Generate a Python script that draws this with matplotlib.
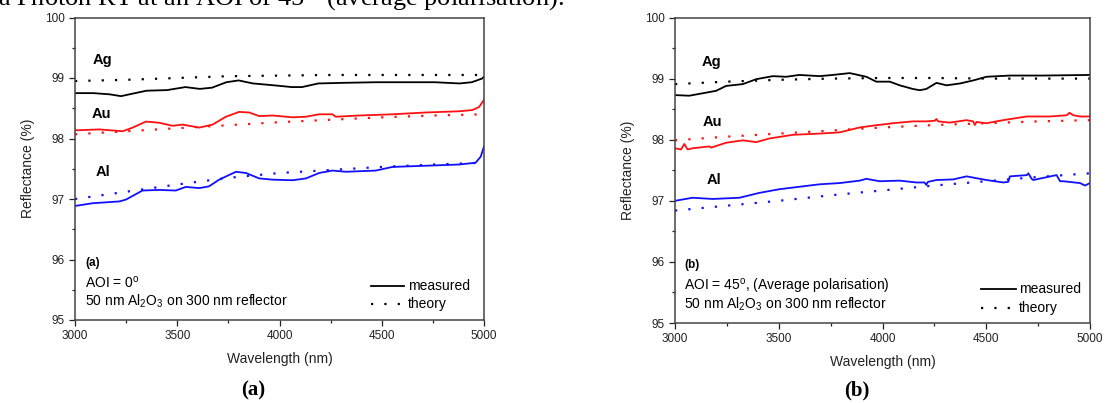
import matplotlib
matplotlib.use("Agg")
import matplotlib.pyplot as plt
from matplotlib.ticker import MultipleLocator

plt.rcParams['font.family'] = ['Liberation Sans', 'DejaVu Sans']
plt.rcParams['mathtext.fontset'] = 'custom'
plt.rcParams['mathtext.rm'] = 'Liberation Sans'
plt.rcParams['mathtext.it'] = 'Liberation Sans:italic'
plt.rcParams['mathtext.bf'] = 'Liberation Sans:bold'

# ---------------- data: panel (a), AOI = 0 ----------------
ag_a_wl = [3000, 3090, 3170, 3225, 3280, 3350, 3450, 3540, 3610, 3670, 3740, 3800, 3870,
           3970, 4060, 4110, 4190, 4310, 4470, 4630, 4760, 4880, 4940, 4990, 5000]
ag_a_meas = [98.75, 98.75, 98.73, 98.70, 98.74, 98.79, 98.80, 98.85, 98.82, 98.84, 98.93, 98.96, 98.91,
             98.88, 98.85, 98.85, 98.91, 98.92, 98.93, 98.93, 98.93, 98.91, 98.93, 98.99, 99.02]

au_a_wl = [3000, 3119, 3233, 3282, 3347, 3412, 3477, 3526, 3608, 3673, 3738, 3803, 3852, 3901,
           3966, 4064, 4129, 4194, 4259, 4275, 4389, 4552, 4715, 4878, 4943, 4976, 5000]
au_a_meas = [98.135, 98.15, 98.12, 98.18, 98.28, 98.26, 98.21, 98.23, 98.18, 98.23, 98.36, 98.44, 98.43, 98.37,
             98.38, 98.35, 98.36, 98.40, 98.40, 98.36, 98.38, 98.40, 98.43, 98.45, 98.47, 98.52, 98.64]

al_a_wl = [3000, 3086, 3217, 3249, 3330, 3412, 3493, 3542, 3608, 3656, 3705, 3787, 3836, 3901,
           3966, 4064, 4129, 4194, 4259, 4324, 4471, 4552, 4715, 4878, 4959, 4984, 5000]
al_a_meas = [96.885, 96.93, 96.96, 96.99, 97.14, 97.15, 97.14, 97.20, 97.18, 97.21, 97.32, 97.45, 97.43, 97.34,
             97.32, 97.31, 97.34, 97.43, 97.47, 97.45, 97.47, 97.53, 97.55, 97.57, 97.60, 97.70, 97.87]

theory_wl = [3000, 3250, 3500, 3750, 4000, 4250, 4500, 4750, 5000]
ag_a_theory = [98.95, 98.97, 99.00, 99.03, 99.04, 99.05, 99.05, 99.05, 99.05]
au_a_theory = [98.07, 98.12, 98.17, 98.22, 98.27, 98.31, 98.35, 98.38, 98.40]
al_a_theory = [97.00, 97.12, 97.24, 97.35, 97.43, 97.48, 97.53, 97.57, 97.60]

# ---------------- data: panel (b), AOI = 45 ----------------
ag_b_wl = [3000, 3069, 3134, 3198, 3246, 3327, 3391, 3471, 3536, 3600, 3697, 3761, 3842, 3922,
           3970, 4035, 4083, 4147, 4179, 4211, 4260, 4309, 4373, 4437, 4501, 4614, 4775, 5000]
ag_b_meas = [98.73, 98.72, 98.76, 98.80, 98.88, 98.91, 98.99, 99.04, 99.03, 99.06, 99.04, 99.06, 99.09, 99.03,
             98.95, 98.95, 98.89, 98.83, 98.81, 98.83, 98.93, 98.89, 98.92, 98.97, 99.03, 99.05, 99.05, 99.06]

au_b_wl = [3000, 3029, 3045, 3061, 3085, 3166, 3174, 3246, 3327, 3391, 3455, 3568, 3697, 3793,
           3890, 3954, 4051, 4147, 4211, 4252, 4260, 4268, 4324, 4405, 4437, 4445, 4453, 4501,
           4582, 4695, 4807, 4888, 4901, 4920, 4952, 5000]
au_b_meas = [97.86, 97.84, 97.93, 97.84, 97.86, 97.89, 97.87, 97.95, 97.99, 97.96, 98.02, 98.08, 98.10, 98.12,
             98.20, 98.23, 98.27, 98.30, 98.30, 98.31, 98.34, 98.30, 98.28, 98.32, 98.30, 98.24, 98.29, 98.27,
             98.32, 98.38, 98.38, 98.40, 98.44, 98.40, 98.38, 98.38]

al_b_wl = [3000, 3085, 3182, 3311, 3407, 3504, 3600, 3697, 3793, 3890, 3922, 3986, 4083, 4163,
           4203, 4211, 4219, 4260, 4341, 4405, 4501, 4582, 4606, 4614, 4695, 4703, 4719, 4727,
           4823, 4839, 4856, 4872, 4952, 4976, 5000]
al_b_meas = [97.00, 97.05, 97.03, 97.05, 97.13, 97.19, 97.23, 97.27, 97.29, 97.33, 97.36, 97.32, 97.33, 97.30,
             97.30, 97.26, 97.31, 97.34, 97.35, 97.40, 97.34, 97.30, 97.31, 97.40, 97.42, 97.45, 97.36, 97.34,
             97.41, 97.42, 97.32, 97.32, 97.29, 97.25, 97.29]

ag_b_theory = [98.91, 98.95, 98.98, 99.00, 99.01, 99.01, 99.00, 99.00, 99.00]
au_b_theory = [97.99, 98.05, 98.10, 98.15, 98.20, 98.24, 98.27, 98.30, 98.32]
al_b_theory = [96.84, 96.92, 97.00, 97.09, 97.17, 97.25, 97.32, 97.39, 97.45]

x_ticks = [3000, 3500, 4000, 4500, 5000]
y_ticks = [95, 96, 97, 98, 99, 100]

W, H = 1106, 403
fig = plt.figure(figsize=(W / 100, H / 100), dpi=100)


def fx(px):
    return px / W


def fy(py):
    return 1 - py / H


def make_axes(l, t, r, b):
    ax = fig.add_axes([fx(l), fy(b), fx(r) - fx(l), fy(t) - fy(b)])
    ax.set_xlim(3000, 5000)
    ax.set_ylim(95, 100)
    ax.set_xticks(x_ticks)
    ax.set_yticks(y_ticks)
    ax.xaxis.set_minor_locator(MultipleLocator(250))
    ax.yaxis.set_minor_locator(MultipleLocator(0.5))
    ax.tick_params(which='both', direction='out', top=False, right=False,
                   labelsize=8.5, colors='#222222', width=0.9)
    ax.tick_params(which='major', length=4)
    ax.tick_params(which='minor', length=2.5)
    for s in ax.spines.values():
        s.set_color('#444444')
        s.set_linewidth(1.1)
    ax.set_xlabel('Wavelength (nm)', fontsize=10, color='#222222', labelpad=7)
    ax.set_ylabel('Reflectance (%)', fontsize=10, color='#222222', labelpad=7)
    return ax


dot = (0, (1, 5))
lw_m = 1.3
lw_t = 1.6

# Panel (a)
axa = make_axes(75, 17.5, 484, 320)
axa.plot(ag_a_wl, ag_a_meas, color='black', lw=lw_m)
axa.plot(theory_wl, ag_a_theory, color='black', lw=lw_t, ls=dot)
axa.plot(au_a_wl, au_a_meas, color='#ff1010', lw=lw_m)
axa.plot(theory_wl, au_a_theory, color='#ff1010', lw=lw_t, ls=dot)
axa.plot(al_a_wl, al_a_meas, color='#1010ff', lw=lw_m)
axa.plot(theory_wl, al_a_theory, color='#1010ff', lw=lw_t, ls=dot)

# Panel (b)
axb = make_axes(675, 17.5, 1090, 323)
axb.plot(ag_b_wl, ag_b_meas, color='black', lw=lw_m)
axb.plot(theory_wl, ag_b_theory, color='black', lw=lw_t, ls=dot)
axb.plot(au_b_wl, au_b_meas, color='#ff1010', lw=lw_m)
axb.plot(theory_wl, au_b_theory, color='#ff1010', lw=lw_t, ls=dot)
axb.plot(al_b_wl, al_b_meas, color='#1010ff', lw=lw_m)
axb.plot(theory_wl, al_b_theory, color='#1010ff', lw=lw_t, ls=dot)

# Metal labels
for x, y, s in [(93, 60, 'Ag'), (92, 114, 'Au'), (96, 172, 'Al'),
                (702, 62, 'Ag'), (703, 122, 'Au'), (707, 180, 'Al')]:
    fig.text(fx(x), fy(y), s, fontsize=10.5, fontweight='bold', ha='left', va='center')

# Annotations panel (a)
fig.text(fx(85), fy(263), '(a)', fontsize=8.5, fontweight='bold', va='center')
fig.text(fx(85), fy(283), 'AOI = 0$^\\mathrm{o}$', fontsize=10, va='center')
fig.text(fx(85), fy(301), '50 nm Al$_2$O$_3$ on 300 nm reflector', fontsize=10, va='center')
# Annotations panel (b)
fig.text(fx(684), fy(265), '(b)', fontsize=8.5, fontweight='bold', va='center')
fig.text(fx(684), fy(286), 'AOI = 45$^\\mathrm{o}$, (Average polarisation)', fontsize=10, va='center')
fig.text(fx(684), fy(304), '50 nm Al$_2$O$_3$ on 300 nm reflector', fontsize=10, va='center')

# Legends drawn as lines + text
for (x0, x1, xt, y1, y2) in [(371, 404, 408, 286, 304), (981, 1016, 1019, 289, 308)]:
    fig.add_artist(plt.Line2D([fx(x0), fx(x1)], [fy(y1), fy(y1)], color='black', lw=lw_m))
    fig.add_artist(plt.Line2D([fx(x0), fx(x1)], [fy(y2), fy(y2)], color='black', lw=lw_t, ls=dot))
    fig.text(fx(xt), fy(y1), 'measured', fontsize=10, va='center')
    fig.text(fx(xt), fy(y2), 'theory', fontsize=10, va='center')

# Captions
fig.text(fx(253), fy(390), '(a)', fontsize=15, fontweight='bold', family='Liberation Serif',
         ha='center', va='center')
fig.text(fx(857), fy(390), '(b)', fontsize=15, fontweight='bold', family='Liberation Serif',
         ha='center', va='center')

# Cut-off running text at the top
fig.text(fx(-2), fy(6), 'a Photon RT at an AOI of 45$^\\circ$ (average polarisation).', fontsize=19,
         family='Liberation Serif', ha='left', va='baseline')

fig.savefig('out.png', dpi=100)
